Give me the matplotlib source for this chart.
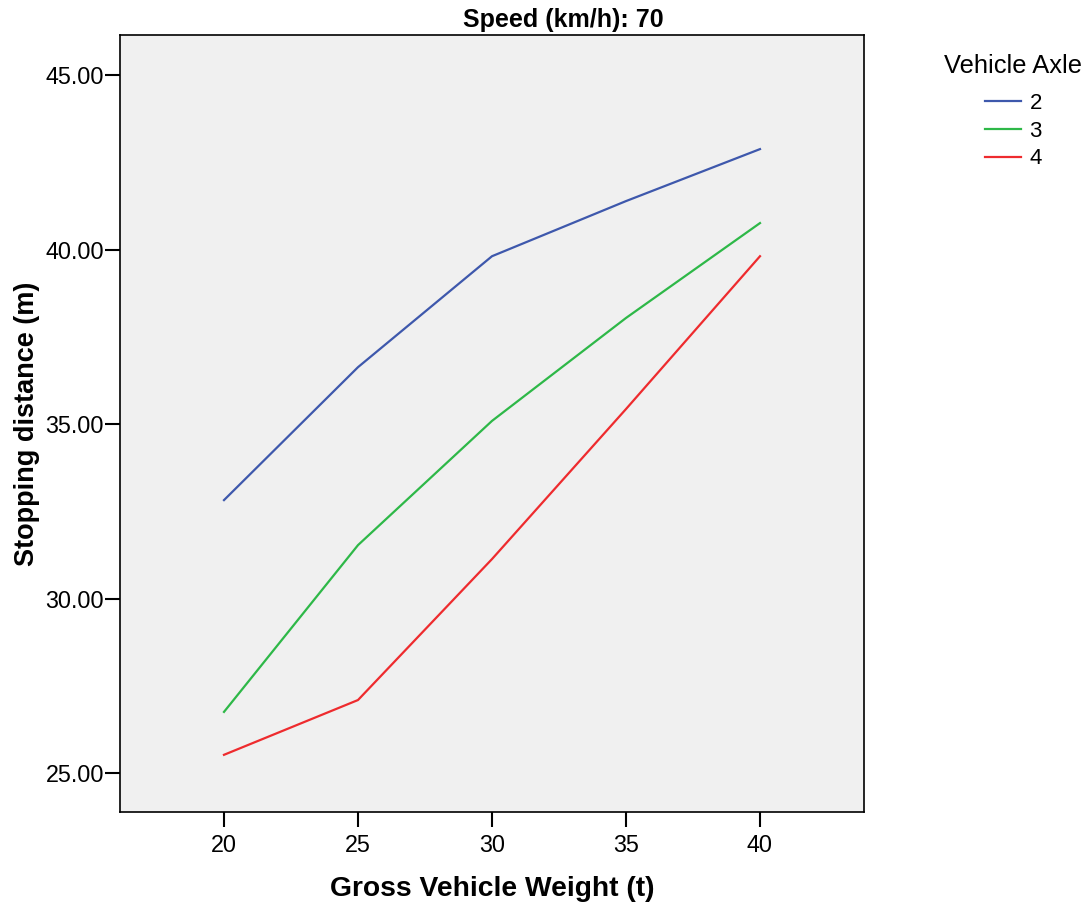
import matplotlib.pyplot as plt

plt.rcParams['font.family'] = ['Liberation Sans', 'DejaVu Sans']

weights = [20, 25, 30, 35, 40]
axle_labels = ['2', '3', '4']
dist_2 = [32.82, 36.63, 39.81, 41.39, 42.88]
dist_3 = [26.75, 31.53, 35.09, 38.04, 40.76]
dist_4 = [25.52, 27.09, 31.13, 35.43, 39.81]
y_ticks = [25, 30, 35, 40, 45]
colors = ['#3E58AC', '#2EB848', '#EE2B2E']

fig = plt.figure(figsize=(10.88, 9.07), dpi=100)
ax = fig.add_axes([0.1103, 0.1047, 0.6838, 0.8567])
ax.set_facecolor('#F0F0F0')

for series, label, c in zip([dist_2, dist_3, dist_4], axle_labels, colors):
    ax.plot(weights, series, color=c, linewidth=1.6, label=label)

ax.set_xlim(16.12, 43.88)
ax.set_ylim(23.88, 46.15)
ax.set_xticks(weights)
ax.set_yticks(y_ticks)
ax.set_yticklabels([f'{v:.2f}' for v in y_ticks])
ax.tick_params(labelsize=16.8, length=10.5, width=1.5, color='black')
ax.tick_params(axis='x', pad=5)
ax.tick_params(axis='y', pad=1)

for s in ax.spines.values():
    s.set_linewidth(1.2)
    s.set_color('black')

# title sits right of the axes centre in the original
fig.text(563 / 1088, 1 - 20 / 907, 'Speed (km/h): 70', ha='center', va='center',
         fontsize=18, fontweight='bold')
ax.set_xlabel('Gross Vehicle Weight (t)', fontsize=20.3, fontweight='bold', labelpad=14)
ax.set_ylabel('Stopping distance (m)', fontsize=19.5, fontweight='bold', labelpad=4)

# legend title placed on its own, entries below
fig.text(1013 / 1088, 1 - 66 / 907, 'Vehicle Axle', ha='center', va='center', fontsize=18.4)
leg = fig.legend(loc='upper left', bbox_to_anchor=(985 / 1088, 1 - 93 / 907),
                 frameon=False, fontsize=16, borderpad=0, borderaxespad=0,
                 handlelength=1.6, handletextpad=0.4, labelspacing=0.3)

plt.savefig('out.png', dpi=100)
plt.close()
